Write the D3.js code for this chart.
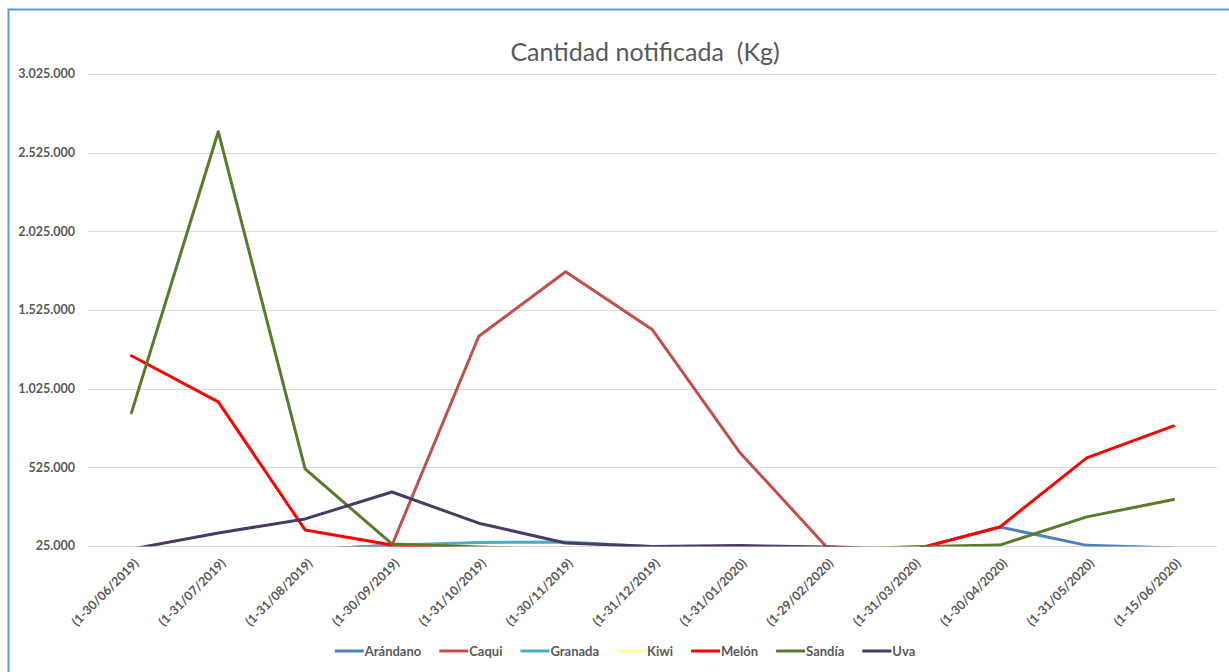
<!DOCTYPE html>
<html>
<head>
<meta charset="utf-8">
<script src="https://cdn.jsdelivr.net/npm/d3@7"></script>
<style>
  body { margin: 0; background: #fff; }
  text { font-family: Lato, "Open Sans", sans-serif; fill: #595959; }
</style>
</head>
<body>
<svg id="chart" width="1229" height="672"></svg>
<script>
const months = ['(1-30/06/2019)', '(1-31/07/2019)', '(1-31/08/2019)', '(1-30/09/2019)', '(1-31/10/2019)',
    '(1-30/11/2019)', '(1-31/12/2019)', '(1-31/01/2020)', '(1-29/02/2020)', '(1-31/03/2020)',
    '(1-30/04/2020)', '(1-31/05/2020)', '(1-15/06/2020)']

const arandano = [0, 0, 0, 0, 0, 0, 0, 0, 0, 0, 146000, 29000, 12000]
const caqui = [0, 0, 0, 30000, 1358000, 1768000, 1399000, 623000, 22000, 0, 0, 0, 0]
const granada = [0, 0, 0, 30000, 48000, 50000, 20000, 0, 0, 0, 0, 0, 0]
const kiwi = [0, 0, 0, 0, 0, 0, 0, 0, 0, 0, 0, 0, 0]
const melon = [1234000, 941000, 127000, 31000, 5000, 0, 0, 0, 0, 0, 146000, 585000, 788000]
const sandia = [871000, 2658000, 515000, 38000, 18000, 0, 0, 0, 0, 20000, 31000, 210000, 320000]
const uva = [5000, 108000, 197000, 368000, 170000, 44000, 22000, 28000, 18000, 0, 0, 0, 0]

const yTicks = [25000, 525000, 1025000, 1525000, 2025000, 2525000, 3025000]

const seriesNames = ['Arándano', 'Caqui', 'Granada', 'Kiwi', 'Melón', 'Sandía', 'Uva']
const seriesColors = ['#4F81BD', '#C0504D', '#4BACC6', '#FFFF99', '#FF0000', '#5B7A2C', '#4A3A66']

const series = [arandano, caqui, granada, kiwi, melon, sandia, uva].map((values, i) => ({
    name: seriesNames[i], color: seriesColors[i], values
}))

const width = 1229
const height = 672
const margin = { top: 74, right: 12, bottom: 126, left: 88 }

const svg = d3.select('#chart')

// outer chart border
svg.append('rect')
    .attr('x', 8.5).attr('y', 9.5)
    .attr('width', width + 10).attr('height', height + 10)
    .attr('fill', 'none')
    .attr('stroke', '#5B9BD5')
    .attr('stroke-width', 2)

svg.append('text')
    .attr('x', 645).attr('y', 61)
    .attr('text-anchor', 'middle')
    .style('font-size', '25px')
    .style('white-space', 'pre')
    .text('Cantidad notificada  (Kg)')

const x = d3.scalePoint()
    .domain(months)
    .range([margin.left, width - margin.right])
    .padding(0.5)

const y = d3.scaleLinear()
    .domain([25000, 3025000])
    .range([height - margin.bottom, margin.top])

const fmt = d3.formatLocale({ decimal: ',', thousands: '.', grouping: [3], currency: ['', ''] }).format(',d')

// gridlines
svg.append('g')
    .selectAll('line')
    .data(yTicks)
    .join('line')
    .attr('x1', margin.left).attr('x2', width - margin.right)
    .attr('y1', d => Math.round(y(d)) + 0.5).attr('y2', d => Math.round(y(d)) + 0.5)
    .attr('stroke', '#D9D9D9')
    .attr('stroke-width', 1)

// y labels
svg.append('g')
    .selectAll('text')
    .data(yTicks)
    .join('text')
    .attr('x', 75)
    .attr('y', d => y(d))
    .attr('dy', '0.35em')
    .attr('text-anchor', 'end')
    .style('font-size', '12.5px')
    .style('font-weight', 'bold')
    .text(d => fmt(d))

// x labels
svg.append('g')
    .selectAll('text')
    .data(months)
    .join('text')
    .attr('transform', d => `translate(${x(d) + 5},${height - margin.bottom + 15}) rotate(-45)`)
    .attr('text-anchor', 'end')
    .attr('dy', '0.35em')
    .style('font-size', '12.5px')
    .style('font-weight', 'bold')
    .text(d => d)

// Excel clips the series at the 25.000 floor of the axis
svg.append('clipPath').attr('id', 'plotclip')
    .append('rect')
    .attr('x', margin.left).attr('y', margin.top - 20)
    .attr('width', width - margin.left - margin.right)
    .attr('height', y(25000) - margin.top + 20.5)

const line = d3.line()
    .x((d, i) => x(months[i]))
    .y(d => y(d))

svg.append('g')
    .attr('clip-path', 'url(#plotclip)')
    .selectAll('path')
    .data(series)
    .join('path')
    .attr('d', d => line(d.values))
    .attr('fill', 'none')
    .attr('stroke', d => d.color)
    .attr('stroke-width', 3)
    .attr('stroke-linejoin', 'round')
    .attr('stroke-linecap', 'round')

// legend
const legend = svg.append('g').attr('transform', 'translate(0,651)')
const items = legend.selectAll('g')
    .data(series)
    .join('g')
items.append('line')
    .attr('x1', 0).attr('x2', 29)
    .attr('stroke', d => d.color)
    .attr('stroke-width', 3)
items.append('text')
    .attr('x', 30)
    .attr('dy', '0.35em')
    .style('font-size', '13px')
    .style('font-weight', 'bold')
    .text(d => d.name)

let offsets = []
let pos = 0
items.each(function(d) {
    const w = d3.select(this).select('text').node().getComputedTextLength()
    offsets.push(pos)
    pos += 30 + w + 18
})
const total = pos - 18
const start = 625 - total / 2
items.attr('transform', (d, i) => `translate(${start + offsets[i]},0)`)
</script>
</body>
</html>
